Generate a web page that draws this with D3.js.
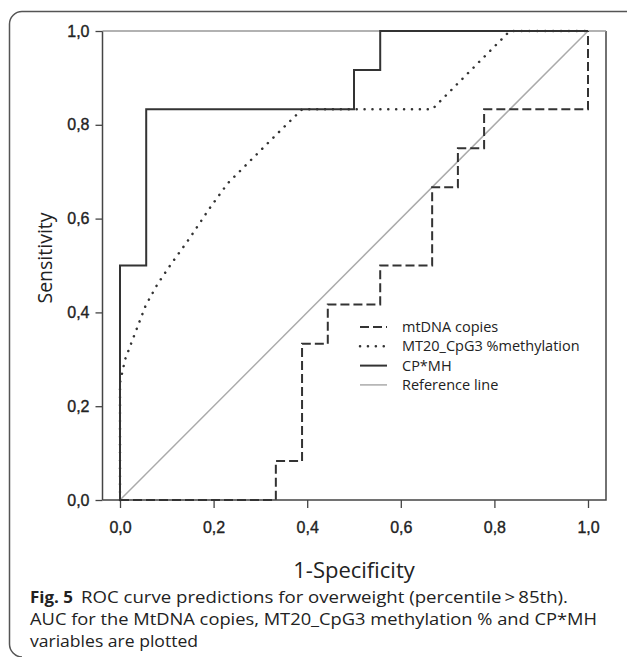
<!DOCTYPE html>
<html>
<head>
<meta charset="utf-8">
<script src="https://cdn.jsdelivr.net/npm/d3@7"></script>
<style>
  body { margin: 0; background: #fff; }
  svg { display: block; }
  .tick text { font-family: "Liberation Sans", Arial, sans-serif; font-size: 16px; fill: #222; stroke: #222; stroke-width: 0.35px; }
  .tick line { stroke: #444; stroke-width: 1.3; }
  .cap { font-family: "Open Sans", sans-serif; font-size: 16px; fill: #222; }
</style>
</head>
<body>
<svg width="627" height="657"></svg>
<script>
// ROC curve points (1-specificity, sensitivity)
var mtdnaX = [0, 0.333, 0.333, 0.389, 0.389, 0.444, 0.444, 0.556, 0.556, 0.667, 0.667, 0.722, 0.722, 0.778, 0.778, 1, 1];
var mtdnaY = [0, 0, 0.083, 0.083, 0.333, 0.333, 0.417, 0.417, 0.5, 0.5, 0.667, 0.667, 0.75, 0.75, 0.833, 0.833, 1];

var mt20X = [0, 0, 0.011, 0.03, 0.055, 0.08, 0.107, 0.15, 0.19, 0.23, 0.28, 0.33, 0.389, 0.667, 0.833, 1];
var mt20Y = [0, 0.25, 0.30, 0.35, 0.415, 0.46, 0.50, 0.56, 0.62, 0.675, 0.725, 0.775, 0.833, 0.833, 1, 1];

var cpmhX = [0, 0, 0.056, 0.056, 0.5, 0.5, 0.556, 0.556, 1];
var cpmhY = [0, 0.5, 0.5, 0.833, 0.833, 0.917, 0.917, 1, 1];

var refX = [0, 1];
var refY = [0, 1];

var tickValues = [0, 0.2, 0.4, 0.6, 0.8, 1.0];
var seriesNames = ["mtDNA copies", "MT20_CpG3 %methylation", "CP*MH", "Reference line"];

var svg = d3.select("svg");

var x = d3.scaleLinear().domain([0, 1]).range([120, 588]),
    y = d3.scaleLinear().domain([0, 1]).range([500, 31]);

var fmt = function(d) { return d.toFixed(1).replace(".", ","); };

// outer figure border (rounded, open at right/bottom)
svg.append("path")
    .attr("d", "M627,11.5 H22 A12.5,12.5 0 0 0 9.5,24 V644 A13,13 0 0 0 22,657")
    .attr("fill", "none")
    .attr("stroke", "#555")
    .attr("stroke-width", 1.5);

// axes
var yAxis = d3.axisLeft(y).tickValues(tickValues).tickFormat(fmt).tickSize(7).tickPadding(6);
var gy = svg.append("g").attr("transform", "translate(102.5,0)").call(yAxis);
gy.select(".domain").remove();

var xAxis = d3.axisBottom(x).tickValues(tickValues).tickFormat(fmt).tickSize(8).tickPadding(14);
var gx = svg.append("g").attr("transform", "translate(0,500)").call(xAxis);
gx.select(".domain").remove();

// plot frame
svg.append("path")
    .attr("d", "M102.5,500 V31 M102.5,500 H606 V31")
    .attr("fill", "none").attr("stroke", "#444").attr("stroke-width", 1.5);
svg.append("line")
    .attr("x1", 102.5).attr("x2", 606).attr("y1", 31).attr("y2", 31)
    .attr("stroke", "#999").attr("stroke-width", 1.5);

var line = d3.line()
    .x(function(d) { return x(d[0]); })
    .y(function(d) { return y(d[1]); });

function pts(xs, ys) { return xs.map(function(v, i) { return [v, ys[i]]; }); }

var styles = [
    {stroke: "#333", width: 2, dash: "9,4", cap: "butt"},
    {stroke: "#333", width: 2.5, dash: "0.1,7.8", cap: "round"},
    {stroke: "#333", width: 2, dash: null, cap: "butt"},
    {stroke: "#aaa", width: 1.5, dash: null, cap: "butt"}
];

var series = [pts(refX, refY), pts(mtdnaX, mtdnaY), pts(mt20X, mt20Y), pts(cpmhX, cpmhY)];
var styleIdx = [3, 0, 1, 2];

series.forEach(function(s, i) {
    var st = styles[styleIdx[i]];
    svg.append("path")
        .datum(s)
        .attr("d", line)
        .attr("fill", "none")
        .attr("stroke", st.stroke)
        .attr("stroke-width", st.width)
        .attr("stroke-linecap", st.cap)
        .attr("stroke-dasharray", st.dash);
});

// legend
var legend = svg.append("g").attr("transform", "translate(360,327)");
seriesNames.forEach(function(name, i) {
    var st = styles[i];
    var g = legend.append("g").attr("transform", "translate(0," + (i * 19.3) + ")");
    g.append("line")
        .attr("x1", 0).attr("x2", 27)
        .attr("stroke", st.stroke)
        .attr("stroke-width", st.width)
        .attr("stroke-linecap", st.cap)
        .attr("stroke-dasharray", st.dash);
    g.append("text")
        .attr("x", 42).attr("dy", "0.35em")
        .style("font-family", "'Open Sans', sans-serif")
        .style("font-size", "14.5px")
        .style("fill", "#222")
        .text(name);
});

// axis titles
svg.append("text")
    .attr("transform", "translate(45,258) rotate(-90)")
    .attr("dy", "0.35em")
    .style("text-anchor", "middle")
    .style("font-family", "'Open Sans', sans-serif")
    .style("font-size", "19.5px")
    .style("fill", "#222")
    .text("Sensitivity");

svg.append("text")
    .attr("x", 354).attr("y", 570).attr("dy", "0.35em")
    .style("text-anchor", "middle")
    .style("font-family", "'Open Sans', sans-serif")
    .style("font-size", "22px")
    .style("fill", "#222")
    .text("1-Specificity");

// caption
svg.append("text").attr("class", "cap")
    .attr("x", 30).attr("y", 603)
    .style("font-weight", "bold")
    .attr("textLength", 43).attr("lengthAdjust", "spacingAndGlyphs")
    .text("Fig. 5");
svg.append("text").attr("class", "cap")
    .attr("x", 81).attr("y", 603)
    .attr("textLength", 487).attr("lengthAdjust", "spacingAndGlyphs")
    .text("ROC curve predictions for overweight (percentile\u2009>\u200985th).");
svg.append("text").attr("class", "cap")
    .attr("x", 30).attr("y", 625)
    .attr("textLength", 567).attr("lengthAdjust", "spacingAndGlyphs")
    .text("AUC for the MtDNA copies, MT20_CpG3 methylation % and CP*MH");
svg.append("text").attr("class", "cap")
    .attr("x", 30).attr("y", 647)
    .attr("textLength", 168).attr("lengthAdjust", "spacingAndGlyphs")
    .text("variables are plotted");
</script>
</body>
</html>
